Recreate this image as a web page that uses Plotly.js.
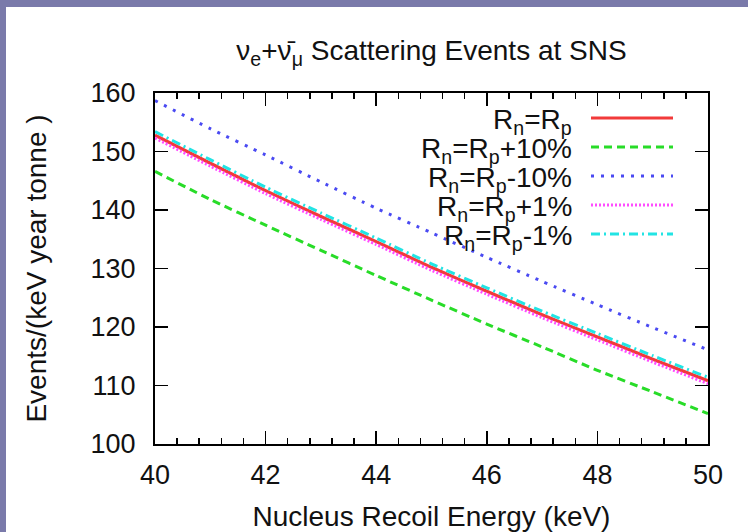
<!DOCTYPE html>
<html>
<head>
<meta charset="utf-8">
<script src="https://cdn.plot.ly/plotly-3.0.1.min.js"></script>
<style>
  html, body { margin:0; padding:0; background:#fff; }
  #wrap { position:relative; width:748px; height:532px; overflow:hidden; }
  #chart { position:absolute; left:0; top:0; width:748px; height:532px; }
  #bt { position:absolute; left:0; top:0; width:748px; height:7px; background:#7a7aaa; z-index:5; }
  #bl { position:absolute; left:0; top:0; width:6px; height:532px; background:#7a7aaa; z-index:5; }
</style>
</head>
<body>
<div id="wrap"><div id="chart"></div><div id="bt"></div><div id="bl"></div></div>
<script>
// ---- data ----
const energy = [40, 41, 42, 43, 44, 45, 46, 47, 48, 49, 50];
const rnEqRp      = [152.8, 148.0, 143.3, 138.9, 134.6, 130.2, 126.1, 122.1, 118.3, 114.5, 110.8];
const rnPlus10    = [146.6, 141.8, 137.4, 133.1, 128.8, 124.6, 120.5, 116.6, 112.6, 108.9, 105.2];
const rnMinus10   = [158.7, 153.9, 149.4, 144.8, 140.3, 136.1, 131.9, 127.8, 123.8, 119.9, 116.1];
const rnPlus1     = [152.3, 147.5, 142.8, 138.4, 134.1, 129.7, 125.6, 121.6, 117.8, 114.0, 110.3];
const rnMinus1    = [153.4, 148.6, 143.9, 139.5, 135.2, 130.8, 126.7, 122.7, 118.9, 115.1, 111.4];
const seriesNames = ['R<sub>n</sub>=R<sub>p</sub>', 'R<sub>n</sub>=R<sub>p</sub>+10%', 'R<sub>n</sub>=R<sub>p</sub>-10%', 'R<sub>n</sub>=R<sub>p</sub>+1%', 'R<sub>n</sub>=R<sub>p</sub>-1%'];
const xTickVals = [40, 42, 44, 46, 48, 50];
const yTickVals = [100, 110, 120, 130, 140, 150, 160];

// ---- styling ----
const seriesData = [rnEqRp, rnPlus10, rnMinus10, rnPlus1, rnMinus1];
const colors = ['#f23a3a', '#28dc28', '#4a4af2', '#ff4cff', '#22e4e4'];
const dashes = ['solid', '8px,5px', '3px,7px', '2px,2px', '9px,4px,2px,4px'];
const widths = [3.2, 3, 3, 3, 3];

const W = 748, H = 532;
const L = 155, R = 708, T = 93, B = 444;
const pw = R - L, ph = B - T;
const px2x = p => (p - L) / pw;
const py2y = p => (B - p) / ph;

const traces = seriesData.map((ys, i) => ({
  x: energy, y: ys, type: 'scatter', mode: 'lines', name: seriesNames[i],
  line: { color: colors[i], width: widths[i], dash: dashes[i], shape: 'spline', smoothing: 0.6 },
  hoverinfo: 'skip'
}));

const font = { family: 'Liberation Sans, Arial, Helvetica, sans-serif', color: '#111' };
const rowY = [121, 150, 179, 208, 237];
const annotations = [];
const shapes = [];
seriesNames.forEach((nm, i) => {
  annotations.push({
    xref: 'paper', yref: 'paper', x: px2x(574), y: py2y(rowY[i]),
    xanchor: 'right', yanchor: 'middle', text: nm, showarrow: false,
    font: Object.assign({}, font, { size: 28 })
  });
  shapes.push({
    type: 'line', xref: 'paper', yref: 'paper',
    x0: px2x(591), x1: px2x(673), y0: py2y(rowY[i] - 3), y1: py2y(rowY[i] - 3),
    line: { color: colors[i], width: widths[i], dash: dashes[i] }
  });
});

const layout = {
  width: W, height: H, autosize: false,
  margin: { l: L, r: W - R, t: T, b: H - B, pad: 0 },
  paper_bgcolor: '#fff', plot_bgcolor: '#fff',
  showlegend: false,
  font: font,
  title: {
    text: '\u03bd<sub>e</sub>+\u03bd\u0304<sub>\u03bc</sub> Scattering Events at SNS',
    font: Object.assign({}, font, { size: 28 }),
    x: 0.5, xref: 'paper', y: 1 - 50 / H, yref: 'container', yanchor: 'middle'
  },
  xaxis: {
    range: [40, 50], tickvals: xTickVals, ticktext: xTickVals.map(String),
    showgrid: false, zeroline: false,
    showline: true, linecolor: '#000', linewidth: 2, mirror: 'allticks',
    ticks: 'inside', ticklen: 13, tickwidth: 1.5, tickcolor: '#000',
    tickfont: Object.assign({}, font, { size: 27 }),
    ticklabelstandoff: 6,
    minor: { dtick: 0.4, tick0: 40, ticks: 'inside', ticklen: 6, tickwidth: 1.5, tickcolor: '#000', showgrid: false },
    title: { text: 'Nucleus Recoil Energy (keV)', font: Object.assign({}, font, { size: 28 }), standoff: 18 }
  },
  yaxis: {
    range: [100, 160], tickvals: yTickVals, ticktext: yTickVals.map(String),
    showgrid: false, zeroline: false,
    showline: true, linecolor: '#000', linewidth: 2, mirror: 'allticks',
    ticks: 'inside', ticklen: 13, tickwidth: 1.5, tickcolor: '#000',
    tickfont: Object.assign({}, font, { size: 27 }),
    ticklabelstandoff: 12,
    title: { text: 'Events/(keV year tonne )', font: Object.assign({}, font, { size: 28 }), standoff: 36 }
  },
  annotations: annotations,
  shapes: shapes
};

Plotly.newPlot('chart', traces, layout, { staticPlot: true, displayModeBar: false });
</script>
</body>
</html>
